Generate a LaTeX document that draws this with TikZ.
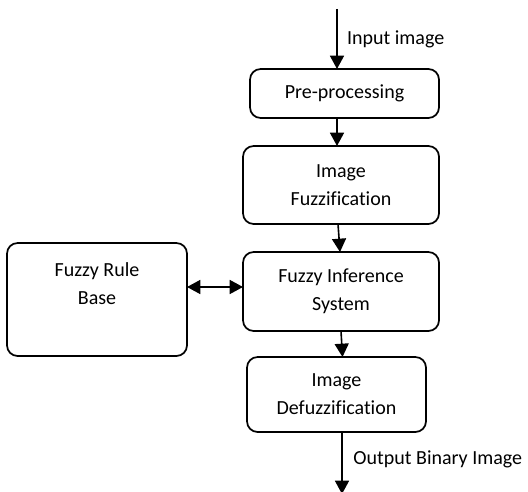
\documentclass[tikz,border=0pt]{standalone}
\usepackage{fontspec}
\setmainfont[Ligatures=CommonOff]{Carlito}
\usetikzlibrary{arrows.meta, positioning, calc}

\begin{document}
\begin{tikzpicture}[
  x=0.75pt, y=-0.75pt,
  box/.style={rectangle, rounded corners=8pt, draw=black, line width=1.3pt,
    inner sep=0pt, outer sep=0pt, align=center,
    font=\fontsize{15}{21}\selectfont},
  arr/.style={-{Triangle[length=10pt, width=10.5pt]}, line width=1.2pt},
  dblarr/.style={{Triangle[length=10pt, width=10.5pt]}-{Triangle[length=10pt, width=10.5pt]},
    line width=1.2pt},
  lbl/.style={font=\fontsize{15}{18}\selectfont, inner sep=0pt}
]
\useasboundingbox (0,0) rectangle (528,492);

\node[box, minimum width=141.75pt, minimum height=36.75pt] (pre) at (344.5,93.5)
  {Pre-processing};
\node[box, minimum width=147pt, minimum height=58.5pt] (fuzz) at (341,185)
  {Image\\Fuzzification};
\node[box, minimum width=147pt, minimum height=59.25pt] (fis) at (341,291.5)
  {Fuzzy Inference\\System};
\node[box, minimum width=135pt, minimum height=84.75pt, text depth=24pt] (rule)
  at (97,299.5) {Fuzzy Rule\\Base};
\node[box, minimum width=134.25pt, minimum height=56.25pt] (defuzz) at (336.5,394.5)
  {Image\\Defuzzification};

\coordinate (in) at (337,9);
\coordinate (out) at (342,494);

% Arrows
\draw[arr] (in) -- node[lbl, right=7pt] {Input image} (in |- pre.north);
\draw[arr] (pre.south -| in) -- (fuzz.north -| in);
\draw[arr] ($(fuzz.south)+(-3,0)$) -- ($(fis.north)+(-1,0)$);
\draw[dblarr] (rule.east |- 0,287) -- (fis.west |- 0,287);
\draw[arr] (fis.south) -- ($(defuzz.north)+(6,0)$);
\draw[arr] (defuzz.south -| out) -- node[lbl, right=8pt, yshift=3pt] {Output Binary Image} (out);

\end{tikzpicture}
\end{document}
